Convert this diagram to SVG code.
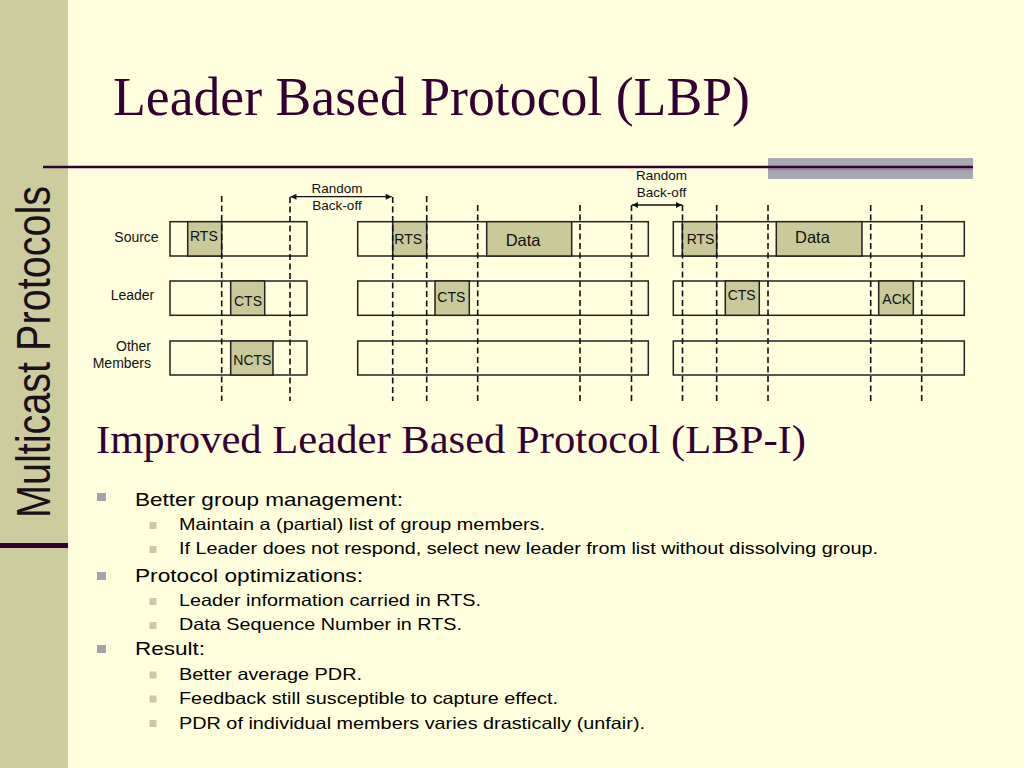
<svg xmlns="http://www.w3.org/2000/svg" width="1024" height="768" viewBox="0 0 1024 768">
<style>
.bg{fill:#FFFFDD}
.side{fill:#CCCC9F}
.frame{fill:none;stroke:#222;stroke-width:1.5}
.slot{fill:#C9C99A;stroke:#222;stroke-width:1.5}
.lbl{font-family:"Liberation Sans",Arial,sans-serif;font-size:14px;fill:#111}
.dlbl{font-family:"Liberation Sans",Arial,sans-serif;font-size:16.5px;fill:#111}
.dash{stroke:#111;stroke-width:1.6;stroke-dasharray:6 3.5;fill:none}
.arr{stroke:#111;stroke-width:1.3;fill:none;marker-start:url(#ah);marker-end:url(#ah)}
.title{font-family:"Liberation Serif","Times New Roman",serif;fill:#330033}
.b1{font-family:"Liberation Sans",Arial,sans-serif;font-size:19px;fill:#000}
.b2{font-family:"Liberation Sans",Arial,sans-serif;font-size:16.5px;fill:#000}
.sq1{fill:#A3A3AD}
.sq2{fill:#C9C9A2}
</style>
<defs>
<marker id="ah" viewBox="0 0 10 10" refX="10" refY="5" markerWidth="7" markerHeight="6" markerUnits="userSpaceOnUse" orient="auto-start-reverse">
<path d="M0,0 L10,5 L0,10 z" fill="#111"/>
</marker>
</defs>
<rect class="bg" x="0" y="0" width="1024" height="768"/>
<rect class="side" x="0" y="0" width="68" height="768"/>
<rect x="0" y="543" width="68" height="5" fill="#330033"/>
<text class="lbl" transform="translate(50,518) rotate(-90)" x="0" y="0" style="font-size:48px;fill:#1a101a" textLength="332" lengthAdjust="spacingAndGlyphs">Multicast Protocols</text>

<rect x="768" y="158" width="205" height="21" fill="#A8A8B2"/>
<line x1="768" y1="169.5" x2="973" y2="169.5" stroke="#A08CA8" stroke-width="2"/>
<line x1="43" y1="167" x2="973" y2="167" stroke="#330033" stroke-width="2.5"/>

<text class="title" x="113" y="115" style="font-size:54px" textLength="637" lengthAdjust="spacingAndGlyphs">Leader Based Protocol (LBP)</text>

<g id="row-labels">
<text class="lbl" x="114.3" y="241.7">Source</text>
<text class="lbl" x="110.7" y="300">Leader</text>
<text class="lbl" x="116" y="351">Other</text>
<text class="lbl" x="92.7" y="368.3">Members</text>
</g>

<g id="frame1">
<rect class="frame" x="170" y="221.7" width="137" height="34.3"/>
<rect class="frame" x="170" y="281" width="137" height="34.3"/>
<rect class="frame" x="170" y="341" width="137" height="34"/>
</g>
<g id="frame2">
<rect class="frame" x="357.7" y="221.7" width="290.6" height="34.3"/>
<rect class="frame" x="357.7" y="281" width="290.6" height="34.3"/>
<rect class="frame" x="357.7" y="341" width="290.6" height="34"/>
</g>
<g id="frame3">
<rect class="frame" x="673.3" y="221.7" width="291" height="34.3"/>
<rect class="frame" x="673.3" y="281" width="291" height="34.3"/>
<rect class="frame" x="673.3" y="341" width="291" height="34"/>
</g>

<g id="g1-rts"><rect class="slot" x="187.7" y="221.7" width="34" height="34.3"/><text class="lbl" x="190" y="240.7">RTS</text></g>
<g id="g1-cts"><rect class="slot" x="230.7" y="281" width="34" height="34.3"/><text class="lbl" x="234" y="305.7">CTS</text></g>
<g id="g1-ncts"><rect class="slot" x="230.7" y="341" width="42.3" height="34"/><text class="lbl" x="233.3" y="365">NCTS</text></g>

<g id="g2-rts"><rect class="slot" x="392.7" y="221.7" width="34" height="34.3"/><text class="lbl" x="394.3" y="244.3">RTS</text></g>
<g id="g2-data"><rect class="slot" x="486.7" y="221.7" width="85" height="34.3"/><text class="dlbl" x="505.7" y="245.7">Data</text></g>
<g id="g2-cts"><rect class="slot" x="435" y="281" width="34.3" height="34.3"/><text class="lbl" x="437.3" y="301.7">CTS</text></g>

<g id="g3-rts"><rect class="slot" x="682.3" y="221.7" width="34.4" height="34.3"/><text class="lbl" x="686.7" y="244">RTS</text></g>
<g id="g3-data"><rect class="slot" x="776.3" y="221.7" width="85.7" height="34.3"/><text class="dlbl" x="795" y="243.3">Data</text></g>
<g id="g3-cts"><rect class="slot" x="725.3" y="281" width="34" height="34.3"/><text class="lbl" x="727.7" y="300">CTS</text></g>
<g id="g3-ack"><rect class="slot" x="878.7" y="281" width="34.6" height="34.3"/><text class="lbl" x="882.3" y="304">ACK</text></g>

<g id="connectors">
<line class="dash" x1="221.7" y1="196" x2="221.7" y2="401"/>
<line class="dash" x1="290" y1="197" x2="290" y2="401"/>
<line class="dash" x1="392.7" y1="197" x2="392.7" y2="401"/>
<line class="dash" x1="426.7" y1="196" x2="426.7" y2="401"/>
<line class="dash" x1="477.7" y1="205" x2="477.7" y2="401"/>
<line class="dash" x1="580" y1="205" x2="580" y2="401"/>
<line class="dash" x1="631.5" y1="205" x2="631.5" y2="401"/>
<line class="dash" x1="682.5" y1="205" x2="682.5" y2="401"/>
<line class="dash" x1="716.7" y1="205" x2="716.7" y2="401"/>
<line class="dash" x1="768" y1="205" x2="768" y2="401"/>
<line class="dash" x1="870.7" y1="205" x2="870.7" y2="401"/>
<line class="dash" x1="921.7" y1="205" x2="921.7" y2="401"/>
<line class="arr" x1="290.5" y1="196.7" x2="391.7" y2="196.7"/>
<line class="arr" x1="632" y1="205" x2="682" y2="205"/>
</g>

<g id="backoff-labels">
<text class="lbl" x="337" y="193.3" text-anchor="middle" style="font-size:13.5px">Random</text>
<text class="lbl" x="337" y="210" text-anchor="middle" style="font-size:13.5px">Back-off</text>
<text class="lbl" x="661.5" y="180" text-anchor="middle" style="font-size:13.5px">Random</text>
<text class="lbl" x="661.5" y="197.3" text-anchor="middle" style="font-size:13.5px">Back-off</text>
</g>

<text class="title" x="96" y="453" style="font-size:40px" textLength="710" lengthAdjust="spacingAndGlyphs">Improved Leader Based Protocol (LBP-I)</text>

<g id="bullets">
<rect class="sq1" x="97" y="493" width="9" height="8"/>
<text class="b1" x="135" y="506" textLength="268" lengthAdjust="spacingAndGlyphs">Better group management:</text>
<rect class="sq2" x="149.5" y="522" width="7" height="7"/>
<text class="b2" x="179" y="530" textLength="366" lengthAdjust="spacingAndGlyphs">Maintain a (partial) list of group members.</text>
<rect class="sq2" x="149.5" y="546" width="7" height="7"/>
<text class="b2" x="179" y="554" textLength="699" lengthAdjust="spacingAndGlyphs">If Leader does not respond, select new leader from list without dissolving group.</text>
<rect class="sq1" x="97" y="572" width="9" height="8"/>
<text class="b1" x="135" y="581.5" textLength="228" lengthAdjust="spacingAndGlyphs">Protocol optimizations:</text>
<rect class="sq2" x="149.5" y="598" width="7" height="7"/>
<text class="b2" x="179" y="606" textLength="302" lengthAdjust="spacingAndGlyphs">Leader information carried in RTS.</text>
<rect class="sq2" x="149.5" y="622" width="7" height="7"/>
<text class="b2" x="179" y="630" textLength="283" lengthAdjust="spacingAndGlyphs">Data Sequence Number in RTS.</text>
<rect class="sq1" x="97" y="645" width="9" height="8"/>
<text class="b1" x="135" y="655" textLength="70" lengthAdjust="spacingAndGlyphs">Result:</text>
<rect class="sq2" x="149.5" y="671.5" width="7" height="7"/>
<text class="b2" x="179" y="679.5" textLength="183" lengthAdjust="spacingAndGlyphs">Better average PDR.</text>
<rect class="sq2" x="149.5" y="695.5" width="7" height="7"/>
<text class="b2" x="179" y="703.5" textLength="379" lengthAdjust="spacingAndGlyphs">Feedback still susceptible to capture effect.</text>
<rect class="sq2" x="149.5" y="720" width="7" height="7"/>
<text class="b2" x="179" y="728.5" textLength="466" lengthAdjust="spacingAndGlyphs">PDR of individual members varies drastically (unfair).</text>
</g>
</svg>
